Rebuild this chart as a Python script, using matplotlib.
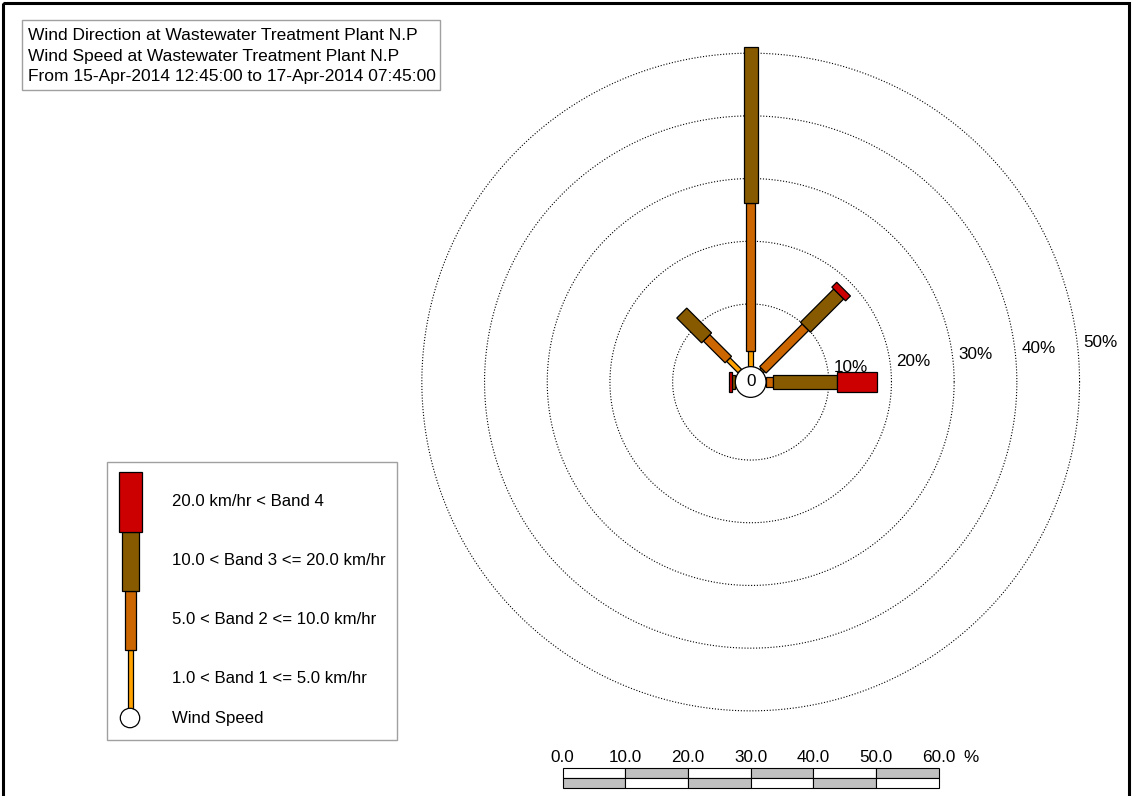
import matplotlib.pyplot as plt
from matplotlib.patches import Polygon, Rectangle, Circle
import numpy as np

plt.rcParams['font.family'] = ['Liberation Sans', 'DejaVu Sans']

# wind rose data: percent of time per direction and speed band
directions = [0, 45, 90, 270, 315]          # compass degrees
band1 = [2.5, 0.3, 0.0, 0.0, 2.6]           # 1.0 - 5.0 km/hr
band2 = [23.6, 9.6, 1.1, 0.0, 4.9]          # 5.0 - 10.0 km/hr
band3 = [24.9, 7.5, 10.2, 0.5, 5.6]         # 10.0 - 20.0 km/hr
band4 = [0.0, 1.1, 6.4, 0.5, 0.0]           # > 20.0 km/hr

band_labels = ["1.0 < Band 1 <= 5.0 km/hr",
               "5.0 < Band 2 <= 10.0 km/hr",
               "10.0 < Band 3 <= 20.0 km/hr",
               "20.0 km/hr < Band 4"]
band_colors = ["#ffa200", "#cc6600", "#885a00", "#cc0000"]
band_widths = [0.8, 1.45, 2.25, 3.1]         # bar widths in % units on the rose

rings = [10, 20, 30, 40, 50]
scale_ticks = [0, 10, 20, 30, 40, 50, 60]

title_lines = ["Wind Direction at Wastewater Treatment Plant N.P",
               "Wind Speed at Wastewater Treatment Plant N.P",
               "From 15-Apr-2014 12:45:00 to 17-Apr-2014 07:45:00"]

W, H = 1132, 796
fig = plt.figure(figsize=(W / 100, H / 100), dpi=100)

# pixel-space axes for the frame, title box and legend
pax = fig.add_axes([0, 0, 1, 1])
pax.set_xlim(0, W)
pax.set_ylim(H, 0)
pax.axis('off')

# rose axes in percent units, centre of the rose at the origin
px_per_pct = 6.27
cx, cy = 750.7, 382
ax = fig.add_axes([0, 0, 1, 1])
ax.set_xlim(-cx / px_per_pct, (W - cx) / px_per_pct)
ax.set_ylim(-(H - cy) / px_per_pct, cy / px_per_pct)
ax.axis('off')

r0 = 2.45   # radius of the calm circle

# outer frame
pax.add_patch(Rectangle((3, 3), W - 6, H + 10, fill=False, ec='black', lw=2.2))

# dotted rings with labels
t = np.linspace(0, 2 * np.pi, 721)
for r in rings:
    rr = r0 + r
    ax.plot(rr * np.cos(t), rr * np.sin(t), color='black', lw=0.8,
            linestyle=(0, (1, 1.6)))
    a = np.radians(5.5)
    ax.annotate(f"{r}%", (rr * np.cos(a), rr * np.sin(a)), xytext=(4, 0),
                textcoords='offset points', ha='left', va='bottom', fontsize=12.3)

# bars
bands = [band1, band2, band3, band4]
for i, d in enumerate(directions):
    th = np.radians(d)
    u = np.array([np.sin(th), np.cos(th)])
    n = np.array([np.cos(th), -np.sin(th)])
    start = r0
    for b in range(4):
        v = bands[b][i]
        if v <= 0:
            continue
        end = start + v
        hw = band_widths[b] / 2
        pts = [start * u + hw * n, end * u + hw * n,
               end * u - hw * n, start * u - hw * n]
        ax.add_patch(Polygon(pts, closed=True, fc=band_colors[b], ec='black',
                             lw=0.9, zorder=3))
        start = end

ax.add_patch(Circle((0, 0), r0, fc='white', ec='black', lw=0.9, zorder=5))
ax.text(0, 0, "0", ha='center', va='center', fontsize=12.3, zorder=6)

# scale bar along the bottom, in % units
y_lab = (cy - 758) / px_per_pct
y_top = (cy - 768) / px_per_pct
y_mid = (cy - 778) / px_per_pct
y_bot = (cy - 788) / px_per_pct
x0 = -30
for k in range(len(scale_ticks) - 1):
    xa = x0 + scale_ticks[k]
    wseg = scale_ticks[k + 1] - scale_ticks[k]
    top_c = '#c0c0c0' if k % 2 else 'white'
    bot_c = 'white' if k % 2 else '#c0c0c0'
    ax.add_patch(Rectangle((xa, y_mid), wseg, y_top - y_mid, fc=top_c,
                           ec='black', lw=0.8))
    ax.add_patch(Rectangle((xa, y_bot), wseg, y_mid - y_bot, fc=bot_c,
                           ec='black', lw=0.8))
for s in scale_ticks:
    ax.text(x0 + s, y_lab, f"{s:.1f}", ha='center', va='center', fontsize=12.3)
ax.text(x0 + 65.1, y_lab, "%", ha='center', va='center', fontsize=12.3)

# title box
pax.add_patch(Rectangle((22, 20), 418, 70, fill=False, ec='#a0a0a0', lw=1))
for j, line in enumerate(title_lines):
    pax.text(28, 35 + j * 21, line, ha='left', va='center', fontsize=12.5)

# legend box
pax.add_patch(Rectangle((107, 462), 290, 278, fill=False, ec='#a0a0a0', lw=1))
leg_w = [5, 11, 17, 23]
leg_cx = 130
seg_top = [650, 591, 532, 472]
seg_bot = [709, 650, 591, 532]
for b in range(4):
    pax.add_patch(Rectangle((leg_cx - leg_w[b] / 2, seg_top[b]), leg_w[b],
                            seg_bot[b] - seg_top[b], fc=band_colors[b],
                            ec='black', lw=0.9))
    pax.text(172, (seg_top[b] + seg_bot[b]) / 2 - 1, band_labels[b],
             ha='left', va='center', fontsize=12.1)
pax.add_patch(Circle((leg_cx, 718), 9.7, fc='white', ec='black', lw=0.9,
                     zorder=4))
pax.text(172, 719, "Wind Speed", ha='left', va='center', fontsize=12.1)

plt.savefig('out.png', dpi=100)
